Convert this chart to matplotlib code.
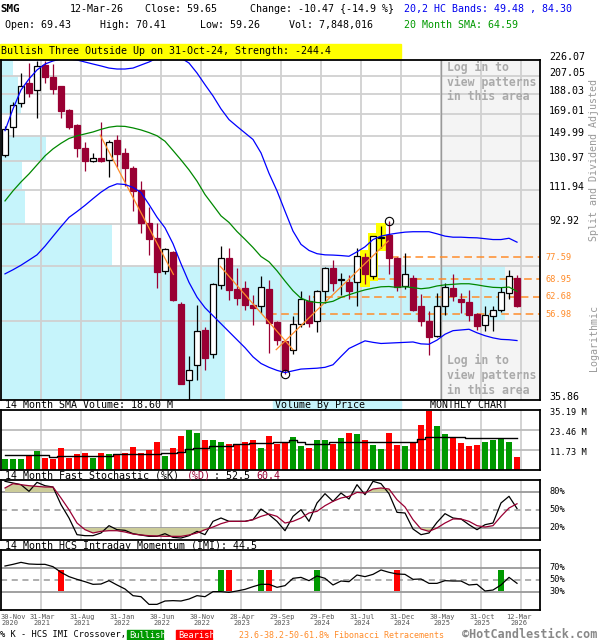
import numpy as np
import matplotlib
matplotlib.use("Agg")
from matplotlib import pyplot as plt
from matplotlib.patches import Rectangle

plt.rcParams["font.family"] = ["DejaVu Sans Mono"]

# monthly candles, 30-Nov-2020 .. 12-Mar-2026
opens = [135.4, 157.0, 178.9, 199.6, 191.9, 219.6, 206.1, 196.3, 172.5, 159.0,
         140.3, 130.7, 132.9, 131.4, 146.6, 136.7, 126.1, 111.9, 93.7, 86.2,
         72.1, 80.0, 60.4, 39.9, 43.3, 52.5, 46.0, 66.8, 77.4, 65.5,
         65.7, 60.0, 59.6, 65.4, 54.7, 49.4, 47.0, 54.0, 61.3, 55.0,
         64.6, 73.3, 68.6, 68.0, 68.0, 77.8, 70.0, 86.2, 87.8, 77.4,
         66.6, 69.5, 59.6, 55.0, 50.7, 59.6, 65.7, 61.9, 61.0, 57.1,
         53.8, 56.4, 58.5, 63.9, 69.43]
highs = [158.4, 180.1, 210.7, 222.4, 224.5, 224.5, 221.2, 196.8, 173.4, 159.9,
         145.0, 136.4, 161.6, 146.7, 150.4, 140.3, 127.5, 117.3, 101.8, 93.6,
         81.5, 80.3, 61.0, 45.5, 59.9, 53.3, 67.5, 82.5, 81.7, 73.3,
         68.2, 63.4, 70.1, 68.8, 55.0, 49.5, 56.4, 64.6, 63.3, 65.2,
         73.6, 76.7, 71.4, 70.5, 81.7, 79.6, 87.3, 91.9, 94.4, 77.8,
         79.6, 70.5, 63.7, 58.0, 63.9, 67.6, 71.0, 64.0, 65.0, 57.3,
         59.8, 59.6, 66.0, 72.6, 70.41]
lows = [133.4, 149.2, 175.5, 184.9, 165.0, 199.6, 188.4, 165.0, 155.7, 133.6,
        124.2, 130.0, 130.2, 119.8, 126.8, 114.5, 100.0, 88.8, 78.8, 65.7,
        70.8, 61.3, 39.0, 35.9, 40.0, 42.3, 44.9, 65.5, 61.5, 60.1,
        58.3, 53.7, 57.4, 46.3, 48.4, 41.3, 45.9, 53.2, 53.2, 51.8,
        60.7, 64.6, 63.4, 62.0, 59.6, 67.2, 69.2, 81.7, 70.8, 64.6,
        65.5, 58.0, 53.5, 45.8, 50.4, 56.7, 61.3, 57.5, 55.0, 52.3,
        52.1, 52.1, 57.8, 61.9, 59.26]
closes = [155.7, 176.9, 196.0, 189.4, 218.4, 206.1, 193.4, 171.3, 157.5, 140.5,
          131.1, 132.7, 130.7, 144.8, 135.9, 126.1, 111.1, 93.7, 85.9, 71.9,
          81.1, 61.5, 39.2, 42.1, 52.1, 45.1, 67.1, 77.3, 65.1, 62.4,
          60.0, 59.1, 66.3, 54.3, 49.5, 42.3, 54.0, 61.8, 54.5, 64.6,
          73.3, 67.6, 68.9, 64.6, 78.1, 71.0, 87.0, 86.7, 77.4, 66.1,
          71.1, 58.5, 55.0, 50.4, 59.6, 66.0, 62.9, 61.1, 56.9, 53.5,
          56.7, 58.3, 64.3, 70.12, 59.65]

# 20,2 HC bands and 20 month SMA
band_upper = [154.2, 173.5, 192.2, 204.0, 214.2, 221.2, 224.9, 227.3, 227.3, 226.1,
              223.6, 221.2, 218.9, 216.4, 215.3, 215.3, 216.4, 220.0, 223.6, 228.5,
              229.9, 229.9, 228.5, 222.4, 210.7, 197.8, 186.1, 173.5, 163.7, 157.8,
              152.3, 147.0, 136.7, 122.4, 111.3, 99.7, 89.5, 83.3, 80.6, 79.2,
              78.7, 78.6, 78.4, 78.1, 80.0, 82.2, 85.5, 87.1, 87.9, 88.5,
              89.0, 89.2, 89.2, 89.2, 88.2, 87.1, 86.6, 86.6, 86.4, 86.3,
              85.9, 85.5, 85.5, 86.1, 84.30]
band_lower = [71.0, 72.6, 74.4, 76.5, 78.7, 82.5, 87.0, 91.7, 96.4, 99.5,
              102.9, 106.7, 110.5, 113.7, 115.6, 115.2, 113.4, 110.3, 103.4, 96.5,
              91.1, 83.6, 75.0, 67.8, 62.6, 59.1, 56.6, 54.2, 51.9, 49.7,
              47.6, 45.3, 43.7, 42.8, 42.1, 41.6, 42.0, 42.4, 42.5, 42.6,
              42.8, 43.4, 45.4, 47.4, 48.4, 49.4, 49.0, 48.7, 48.8, 48.9,
              49.0, 49.1, 48.6, 48.5, 49.6, 51.2, 52.2, 52.4, 52.6, 51.6,
              50.8, 50.2, 49.8, 49.7, 49.48]
sma20 = [105.4, 111.3, 116.8, 122.0, 128.1, 134.5, 139.7, 144.0, 147.8, 149.9,
         151.5, 153.1, 155.3, 157.1, 158.0, 157.8, 156.5, 154.8, 152.6, 150.0,
         145.6, 138.5, 131.6, 124.7, 117.3, 109.1, 103.0, 97.2, 93.8, 89.3,
         85.6, 81.9, 78.0, 75.8, 72.2, 68.3, 64.8, 62.2, 61.2, 60.8,
         60.7, 61.2, 62.5, 63.4, 64.3, 65.1, 65.7, 66.2, 66.3, 66.0,
         66.2, 65.9, 65.5, 65.8, 66.5, 66.9, 67.1, 67.3, 67.3, 66.9,
         66.4, 66.0, 65.9, 66.1, 64.59]

# volume (millions) and its 14 month SMA
volume = [6.45, 6.45, 6.45, 8.4, 11.1, 7.0, 6.45, 12.9, 7.0, 9.4,
          10.0, 7.0, 10.0, 9.4, 8.8, 10.0, 13.5, 10.0, 11.7, 16.4,
          8.2, 12.9, 19.9, 23.5, 21.7, 17.6, 17.6, 16.4, 15.2, 14.7,
          16.4, 17.6, 12.9, 19.9, 15.2, 15.8, 19.4, 14.1, 12.9, 17.6,
          17.6, 15.2, 18.8, 21.7, 21.1, 17.6, 14.7, 12.3, 21.7, 14.7,
          14.1, 16.4, 26.4, 34.6, 25.8, 21.1, 18.8, 15.8, 14.1, 14.7,
          16.4, 17.6, 18.8, 16.4, 7.85]
vol_sma = [8.6, 8.6, 8.6, 8.6, 8.6, 8.6, 7.6, 8.0, 8.0, 8.0,
           8.0, 8.0, 8.0, 8.0, 9.2, 9.2, 9.2, 9.2, 9.2, 9.2,
           9.8, 9.8, 10.8, 12.3, 13.1, 13.1, 14.3, 14.3, 14.3, 15.4,
           15.4, 16.0, 16.0, 16.0, 16.6, 16.6, 17.6, 16.6, 15.4, 15.4,
           15.4, 16.6, 16.6, 16.6, 16.6, 16.6, 16.2, 16.2, 16.6, 16.6,
           16.6, 16.6, 18.0, 19.2, 19.2, 19.2, 19.6, 19.6, 18.9, 18.6,
           18.9, 18.9, 18.9, 18.9, 18.6]

# 14 month fast stochastic
stoch_k = [97.8, 95, 92.2, 81.1, 96.1, 90.5, 88.3, 58.9, 36.7, 8.9,
           7.2, 7.2, 11.7, 23.9, 17.2, 16.1, 10.5, 8.3, 6.1, 6.1,
           10.5, 4.4, 3.3, 7.2, 14.4, 8.9, 31.1, 36.7, 31.1, 31.1,
           31.1, 33.9, 51.6, 42.2, 31.1, 15.5, 39.4, 50.5, 31.1, 61.7,
           77.2, 64.4, 78.3, 68.3, 92.2, 75.5, 97.8, 93.9, 77.2, 46.1,
           45, 18.3, 8.9, 11.7, 29.4, 43.9, 36.7, 35, 25.5, 17.2,
           25.5, 28.3, 61.7, 72.8, 52.5]
stoch_d = [86.7, 93.9, 92.2, 90.5, 89.4, 88.3, 88.3, 70, 50.5, 28.3,
           17.2, 11.7, 14.4, 15.5, 15.5, 13.3, 10, 8.3, 7.2, 6.7,
           6.1, 6.1, 6.1, 8.3, 11.7, 17.2, 21.6, 27.2, 31.1, 31.1,
           31.1, 33.9, 39.4, 43.3, 39.4, 28.3, 31.1, 36.7, 45, 47.8,
           57.2, 64.4, 70, 72.8, 79.4, 78.3, 85, 86.7, 85, 67.2,
           55, 33.9, 18.3, 14.4, 20, 28.3, 35, 35, 31.1, 23.9,
           21.6, 23.9, 39.4, 53.3, 60.4]

# 14 month HCS intraday momentum
imi = [73.3, 76.1, 79.4, 76.7, 76.1, 76.1, 72.2, 62.8, 55.6, 51.1,
       47.2, 42.8, 43.3, 48.9, 41.7, 35, 23.9, 22.2, 9.4, 9.4,
       15, 15.6, 15, 18.3, 23.9, 22.2, 30.6, 30.6, 29.4, 31.7,
       34.4, 38.9, 42.8, 42.8, 37.8, 40.6, 52.8, 54.4, 48.9, 56.7,
       52.8, 41.7, 48.3, 47.2, 58.3, 55.6, 59.4, 66.7, 62.8, 60,
       59.4, 51.1, 51.7, 44.4, 44.4, 48.9, 48.3, 48.3, 41.7, 42.8,
       31.7, 33.3, 41.7, 54.4, 44.5]
imi_bullish = [27, 32, 39, 62]
imi_bearish = [7, 28, 33, 49]

# volume by price, % of the biggest band, bands from bottom to top
vbp_pct = [44.4, 100, 22.0, 4.8, 4.2, 8.9, 0, 4.0, 3.4, 2.4]

price_ticks = [35.86, 54.88, 73.90, 92.92, 111.94, 130.97, 149.99, 169.01, 188.03, 207.05, 226.07]
price_labels = ["35.86", "", "", "92.92", "111.94", "130.97", "149.99", "169.01", "188.03", "207.05", "226.07"]

fib_levels = [77.59, 68.95, 62.68, 56.98]
fib_start = [48.3, 43.5, 38.5, 33.0]

# pattern trend lines (month index, price)
trend_lines = [((11.9, 150.5), (21.05, 70.8)),
               ((26.9, 74.0), (36.0, 47.1)),
               ((33.9, 47.1), (47.9, 84.8))]
pattern_bars = [45, 46, 47]
circled = [(35, "low"), (48, "high")]

date_idx = [0, 4, 9, 14, 19, 24, 29, 34, 39, 44, 49, 54, 59, 64]
date_labels = ["30-Nov\n2020", "31-Mar\n2021", "31-Aug\n2021", "31-Jan\n2022", "30-Jun\n2022",
               "30-Nov\n2022", "28-Apr\n2023", "29-Sep\n2023", "29-Feb\n2024", "31-Jul\n2024",
               "31-Dec\n2024", "30-May\n2025", "31-Oct\n2025", "12-Mar\n2026"]

n = len(closes)
idx = np.arange(n)
o_, h_, l_, c_ = map(np.array, (opens, highs, lows, closes))
up = c_ >= o_

W, H = 600, 640
fig = plt.figure(figsize=(6, 6.4), dpi=100)


def box(x0, y0, x1, y1):
    return [x0 / W, 1 - y1 / H, (x1 - x0) / W, (y1 - y0) / H]


def put(x, y, s, color="black", size=7.2, weight="normal", **kw):
    fig.text(x / W, 1 - y / H, s, color=color, size=size, weight=weight,
             va="center", ha="left", **kw)


def fig_rect(x0, y0, x1, y1, color):
    fig.add_artist(Rectangle((x0 / W, 1 - y1 / H), (x1 - x0) / W, (y1 - y0) / H,
                             transform=fig.transFigure, color=color, zorder=0))


XL = (-0.5, 66.875)
RED = "#990033"
GRID = "#d0d0d0"
ORANGE = "#ff8c2a"

ax = fig.add_axes(box(1, 60, 540, 400))
axv = fig.add_axes(box(1, 410, 540, 470))
axs = fig.add_axes(box(1, 480, 540, 540))
axi = fig.add_axes(box(1, 550, 540, 610))

for a in (ax, axv, axs, axi):
    a.set_xlim(*XL)
    a.set_xticks([])
    a.set_yticks([])
    for sp in a.spines.values():
        sp.set_linewidth(1.3)
        sp.set_zorder(10)
    for i in date_idx[1:]:
        a.axvline(i + 0.5, color=GRID, lw=1.3, zorder=1.5)

# ---- price panel
ax.set_yscale("log")
ax.set_ylim(price_ticks[0], price_ticks[-1])
ax.minorticks_off()
ax.set_yticks([])
ax.axvspan(54.5, XL[1], color="#f4f4f4", zorder=0.5)

vbp_w = np.array(vbp_pct) / 100 * 63
for k, w in enumerate(vbp_w):
    ax.add_patch(Rectangle((XL[0], price_ticks[k]), w, price_ticks[k + 1] - price_ticks[k],
                           color="#c6f4fb", lw=0, zorder=1))
for v in price_ticks[1:-1]:
    ax.axhline(v, color=GRID, lw=1.3, zorder=1.5)
ax.axvline(54.5, color="#999999", lw=1, zorder=1.6)

for v, s in zip(price_ticks, price_labels):
    if s:
        ax.annotate(s, xy=(1, v), xycoords=("axes fraction", "data"), xytext=(6.5, 2.2),
                    textcoords="offset points", va="center", ha="left", size=7.2,
                    annotation_clip=False)

for lv, st in zip(fib_levels, fib_start):
    ax.plot([st, XL[1]], [lv, lv], color=ORANGE, lw=1.1, ls=(0, (5, 3)), zorder=2)
    ax.annotate(f"{lv:.2f}", xy=(1, lv), xycoords=("axes fraction", "data"), xytext=(3.6, 0),
                textcoords="offset points", va="center", ha="left", size=6.2,
                color=ORANGE, annotation_clip=False)

for i in pattern_bars:
    ax.add_patch(Rectangle((i - 0.6, l_[i] * 0.985), 1.2, h_[i] * 1.015 - l_[i] * 0.985,
                           color="#ffff00", lw=0, zorder=3))

for i in idx:
    col = "black" if up[i] else RED
    ax.vlines(i, l_[i], h_[i], color=col, lw=0.9, zorder=4)
    lo, hi = min(o_[i], c_[i]), max(o_[i], c_[i])
    ax.add_patch(Rectangle((i - 0.35, lo), 0.7, hi - lo,
                           facecolor="white" if up[i] else RED,
                           edgecolor=col, lw=0.9, zorder=4.5))

for (x0, y0), (x1, y1) in trend_lines:
    ax.plot([x0, x1], [y0, y1], color=ORANGE, lw=0.9, zorder=5)

ax.plot(idx, band_upper, color="#0000ff", lw=0.9, zorder=5)
ax.plot(idx, band_lower, color="#0000ff", lw=0.9, zorder=5)
ax.plot(idx, sma20, color="#008800", lw=0.9, zorder=5)

for i, side in circled:
    ax.plot(i, l_[i] if side == "low" else h_[i], "o", mfc="none", mec="black",
            ms=6, mew=0.8, zorder=6)

for k, line in enumerate(["Log in to", "view patterns", "in this area"]):
    put(447, 67 + 15 * k, line, color="#aaaaaa", size=8.3, weight="bold")
    put(447, 360 + 15 * k, line, color="#aaaaaa", size=8.3, weight="bold")

# ---- volume panel
axv.set_ylim(0, 35.19)
axv.bar(idx, volume, width=0.72, color=np.where(up, "#009900", "#ff0000"), zorder=3)
axv.step(idx, vol_sma, where="mid", color="black", lw=1, zorder=4)
for v in (11.73, 23.46):
    axv.axhline(v, color="#bbbbbb", lw=1.3, zorder=1.5)
for v in (11.73, 23.46, 35.19):
    axv.annotate(f"{v:.2f} M", xy=(1, v), xycoords=("axes fraction", "data"), xytext=(7, -1.5),
                 textcoords="offset points", va="center", ha="left", size=6.2,
                 annotation_clip=False)

# ---- stochastic panel
axs.set_ylim(0, 100)
kk, dd = np.array(stoch_k), np.array(stoch_d)
axs.fill_between(idx, 80, dd, where=dd > 80, interpolate=True, color="#cccc99", lw=0, zorder=2)
axs.fill_between(idx, 20, dd, where=dd < 20, interpolate=True, color="#cccc99", lw=0, zorder=2)
for v in (20, 80):
    axs.axhline(v, color="#999999", lw=1.3, zorder=1.6)
axs.axhline(50, color="#999999", lw=1.1, ls=(0, (4, 3)), zorder=1.6)
axs.plot(idx, kk, color="black", lw=0.9, zorder=4)
axs.plot(idx, dd, color=RED, lw=0.9, zorder=4)
for v in (20, 50, 80):
    axs.annotate(f"{v}%", xy=(1, v), xycoords=("axes fraction", "data"), xytext=(7, 0),
                 textcoords="offset points", va="center", ha="left", size=6.2,
                 annotation_clip=False)

# ---- IMI panel
axi.set_ylim(0, 100)
for v in (30, 70):
    axi.axhline(v, color="#999999", lw=1.3, zorder=1.6)
axi.axhline(50, color="#999999", lw=1.1, ls=(0, (4, 3)), zorder=1.6)
for i in imi_bullish:
    axi.add_patch(Rectangle((i - 0.35, 32), 0.7, 35, color="#009900", lw=0, zorder=3))
for i in imi_bearish:
    axi.add_patch(Rectangle((i - 0.35, 32), 0.7, 35, color="#ff0000", lw=0, zorder=3))
axi.plot(idx, imi, color="black", lw=0.9, zorder=4)
for v in (30, 50, 70):
    axi.annotate(f"{v}%", xy=(1, v), xycoords=("axes fraction", "data"), xytext=(7, 0),
                 textcoords="offset points", va="center", ha="left", size=6.2,
                 annotation_clip=False)

for i, s in zip(date_idx, date_labels):
    xpos = i + 0.6
    ha = "center"
    if i == date_idx[0]:
        xpos, ha = XL[0], "left"
    elif i == date_idx[-1]:
        xpos = 64.3
    axi.annotate(s, xy=(xpos, 0), xycoords="data", xytext=(0, -3),
                 textcoords="offset points", va="top", ha=ha, size=5,
                 color="#555555", linespacing=0.95, annotation_clip=False)

# ---- header and captions
put(0, 9, "SMG", size=7.8, weight="bold")
put(70, 9, "12-Mar-26")
put(144.7, 9, "Close: 59.65")
put(249.5, 9, "Change: -10.47 {-14.9 %}")
put(404.5, 9, "20,2 HC Bands: 49.48 , 84.30", color="#0000ee")
put(4.6, 25, "Open: 69.43")
put(99.5, 25, "High: 70.41")
put(199.8, 25, "Low: 59.26")
put(289, 25, "Vol: 7,848,016")
put(404.5, 25, "20 Month SMA: 64.59", color="#009900")
fig_rect(0, 44.5, 400.7, 58, "#ffff00")
put(1, 51.3, "Bullish Three Outside Up on 31-Oct-24, Strength: -244.4")

fig.text(594 / W, 1 - 160 / H, "Split and Dividend Adjusted", rotation=90, color="#999999",
         size=7.2, ha="center", va="center")
fig.text(594 / W, 1 - 338 / H, "Logarithmic", rotation=90, color="#999999",
         size=7.2, ha="center", va="center")

put(4.6, 405.5, "14 Month SMA Volume: 18.60 M")
fig_rect(272.5, 400.5, 400.7, 410, "#c6f4fb")
put(275, 405.5, "Volume By Price")
put(430, 405.5, "MONTHLY CHART")

put(4.6, 476, "14 Month Fast Stochastic (%K) ")
put(186.4, 476, "(%D)", color=RED)
put(213.5, 476, ": 52.5")
put(256.4, 476, "60.4", color=RED)
put(4.6, 546, "14 Month HCS Intraday Momentum (IMI): 44.5")

put(0, 635, "% K - HCS IMI Crossover,", size=6.2)
fig_rect(127.4, 629.5, 162.6, 640, "#009900")
put(129.5, 635, "Bullish", color="white", size=6.2)
fig_rect(176, 629.5, 212.4, 640, "#ff0000")
put(178, 635, "Bearish", color="white", size=6.2)
put(239, 635, "23.6-38.2-50-61.8% Fibonacci Retracements", color=ORANGE, size=6)
put(462, 634, "\u00a9HotCandlestick.com", color="#888888", size=8.5, weight="bold")

fig.savefig("out.png", dpi=100)
